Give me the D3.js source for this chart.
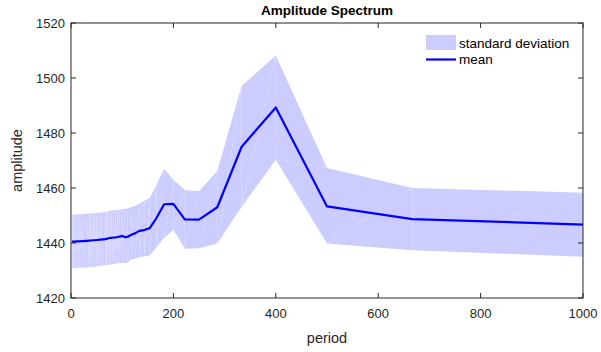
<!DOCTYPE html>
<html>
<head>
<meta charset="utf-8">
<script src="https://cdn.jsdelivr.net/npm/d3@7"></script>
<style>
  body { margin: 0; background: #fff; }
  text { font-family: "Liberation Sans", Arial, sans-serif; }
</style>
</head>
<body>
<div id="chart"></div>
<script>
// period values (1000/k)
const periods = [2, 3.3, 5, 7.1, 10, 12.5, 16.7, 20, 25, 29.4, 33.3, 35.7, 38.5, 41.7, 45.5, 50,
  52.6, 55.6, 58.8, 62.5, 66.7, 69, 71.4, 74.1, 76.9, 80, 83.3, 87, 90.9, 95.2, 100, 105.3,
  111.1, 117.6, 125, 133.3, 142.9, 153.8, 166.7, 181.8, 200, 222.2, 250, 285.7, 333.3, 400,
  500, 666.7, 1000];
const meanVals = [1440.5, 1440.5, 1440.5, 1440.5, 1440.6, 1440.6, 1440.6, 1440.7, 1440.7, 1440.8,
  1440.8, 1440.9, 1440.9, 1441.0, 1441.0, 1441.1, 1441.1, 1441.2, 1441.2, 1441.3, 1441.4, 1441.5,
  1441.6, 1441.8, 1441.9, 1441.9, 1442.0, 1442.0, 1442.2, 1442.3, 1442.6, 1442.1, 1442.3, 1443.0,
  1443.5, 1444.4, 1444.7, 1445.4, 1449.0, 1454.1, 1454.2, 1448.6, 1448.5, 1453.0, 1475.0, 1489.3,
  1453.3, 1448.7, 1446.7];
const upperVals = [1450.3, 1450.3, 1450.3, 1450.4, 1450.4, 1450.4, 1450.5, 1450.5, 1450.6, 1450.6,
  1450.7, 1450.7, 1450.8, 1450.8, 1450.9, 1451.0, 1451.0, 1451.1, 1451.1, 1451.2, 1451.3, 1451.4,
  1451.5, 1451.6, 1451.7, 1451.8, 1451.8, 1451.9, 1452.0, 1452.2, 1452.3, 1452.4, 1452.7, 1453.0,
  1453.5, 1454.3, 1455.3, 1456.5, 1461.0, 1467.0, 1463.0, 1459.3, 1458.8, 1466.2, 1497.1, 1508.2,
  1467.3, 1460.0, 1458.3];
const lowerVals = [1430.8, 1430.8, 1430.8, 1430.9, 1430.9, 1431.0, 1431.0, 1431.0, 1431.1, 1431.1,
  1431.2, 1431.2, 1431.3, 1431.3, 1431.4, 1431.5, 1431.6, 1431.6, 1431.7, 1431.8, 1431.9, 1432.0,
  1432.0, 1432.1, 1432.2, 1432.3, 1432.4, 1432.5, 1432.6, 1432.7, 1432.7, 1432.7, 1433.0, 1434.0,
  1434.3, 1434.8, 1435.1, 1435.5, 1438.5, 1441.8, 1444.8, 1437.9, 1438.1, 1439.8, 1453.2, 1470.3,
  1439.8, 1437.4, 1435.0];

const xTicks = [0, 200, 400, 600, 800, 1000];
const yTicks = [1420, 1440, 1460, 1480, 1500, 1520];

const width = 601, height = 352;
const margin = {left: 71, right: 18, top: 23, bottom: 54};
const axisColor = '#262626';

const x = d3.scaleLinear().domain([0, 1000]).range([margin.left, width - margin.right]);
const y = d3.scaleLinear().domain([1420, 1520]).range([height - margin.bottom, margin.top]);

const svg = d3.select('#chart').append('svg')
  .attr('width', width)
  .attr('height', height);

svg.append('clipPath').attr('id', 'clip')
  .append('rect')
  .attr('x', x(0)).attr('y', y(1520))
  .attr('width', x(1000) - x(0)).attr('height', y(1420) - y(1520));

const plot = svg.append('g').attr('clip-path', 'url(#clip)');

// band drawn as triangles (seams like the original fill)
const tris = [];
for (let i = 0; i < periods.length - 1; i++) {
  const a = [x(periods[i]), y(lowerVals[i])];
  const b = [x(periods[i]), y(upperVals[i])];
  const c = [x(periods[i + 1]), y(upperVals[i + 1])];
  const d = [x(periods[i + 1]), y(lowerVals[i + 1])];
  tris.push([a, b, c], [a, c, d]);
}
plot.selectAll('path.band')
  .data(tris)
  .enter()
  .append('path')
  .attr('class', 'band')
  .attr('d', t => 'M' + t.map(p => p.join(',')).join('L') + 'Z')
  .attr('fill', '#ccccff');

const line = d3.line()
  .x((d, i) => x(periods[i]))
  .y(d => y(d));

plot.append('path')
  .datum(meanVals)
  .attr('d', line)
  .attr('fill', 'none')
  .attr('stroke', '#0000ff')
  .attr('stroke-width', 2.2)
  .attr('stroke-linejoin', 'round');

// axes box with inward ticks
const axes = svg.append('g');
axes.append('rect')
  .attr('x', x(0)).attr('y', y(1520))
  .attr('width', x(1000) - x(0)).attr('height', y(1420) - y(1520))
  .attr('fill', 'none')
  .attr('stroke', axisColor)
  .attr('stroke-width', 1);

const tickLen = 5;
xTicks.forEach(t => {
  axes.append('line')
    .attr('x1', x(t)).attr('x2', x(t))
    .attr('y1', y(1420)).attr('y2', y(1420) - tickLen)
    .attr('stroke', axisColor);
  axes.append('line')
    .attr('x1', x(t)).attr('x2', x(t))
    .attr('y1', y(1520)).attr('y2', y(1520) + tickLen)
    .attr('stroke', axisColor);
  axes.append('text')
    .attr('x', x(t)).attr('y', y(1420) + 20)
    .attr('text-anchor', 'middle')
    .attr('font-size', 13)
    .attr('fill', axisColor)
    .text(t);
});
yTicks.forEach(t => {
  axes.append('line')
    .attr('x1', x(0)).attr('x2', x(0) + tickLen)
    .attr('y1', y(t)).attr('y2', y(t))
    .attr('stroke', axisColor);
  axes.append('line')
    .attr('x1', x(1000)).attr('x2', x(1000) - tickLen)
    .attr('y1', y(t)).attr('y2', y(t))
    .attr('stroke', axisColor);
  axes.append('text')
    .attr('x', x(0) - 6).attr('y', y(t) + 4.5)
    .attr('text-anchor', 'end')
    .attr('font-size', 13)
    .attr('fill', axisColor)
    .text(t);
});

// labels
svg.append('text')
  .attr('x', (x(0) + x(1000)) / 2).attr('y', 15)
  .attr('text-anchor', 'middle')
  .attr('font-size', 13.5)
  .attr('font-weight', 'bold')
  .attr('fill', '#000')
  .text('Amplitude Spectrum');

svg.append('text')
  .attr('x', (x(0) + x(1000)) / 2).attr('y', 343)
  .attr('text-anchor', 'middle')
  .attr('font-size', 14.5)
  .attr('fill', axisColor)
  .text('period');

svg.append('text')
  .attr('transform', 'translate(22,' + ((y(1420) + y(1520)) / 2) + ') rotate(-90)')
  .attr('text-anchor', 'middle')
  .attr('font-size', 14.5)
  .attr('fill', axisColor)
  .text('amplitude');

// legend
const legend = svg.append('g');
legend.append('rect')
  .attr('x', 426).attr('y', 35)
  .attr('width', 30).attr('height', 15)
  .attr('fill', '#ccccff');
legend.append('text')
  .attr('x', 459).attr('y', 47.5)
  .attr('font-size', 13.5)
  .attr('fill', '#000')
  .text('standard deviation');
legend.append('line')
  .attr('x1', 426).attr('x2', 456)
  .attr('y1', 59.5).attr('y2', 59.5)
  .attr('stroke', '#0000ff')
  .attr('stroke-width', 2.2);
legend.append('text')
  .attr('x', 459).attr('y', 64)
  .attr('font-size', 13.5)
  .attr('fill', '#000')
  .text('mean');
</script>
</body>
</html>
